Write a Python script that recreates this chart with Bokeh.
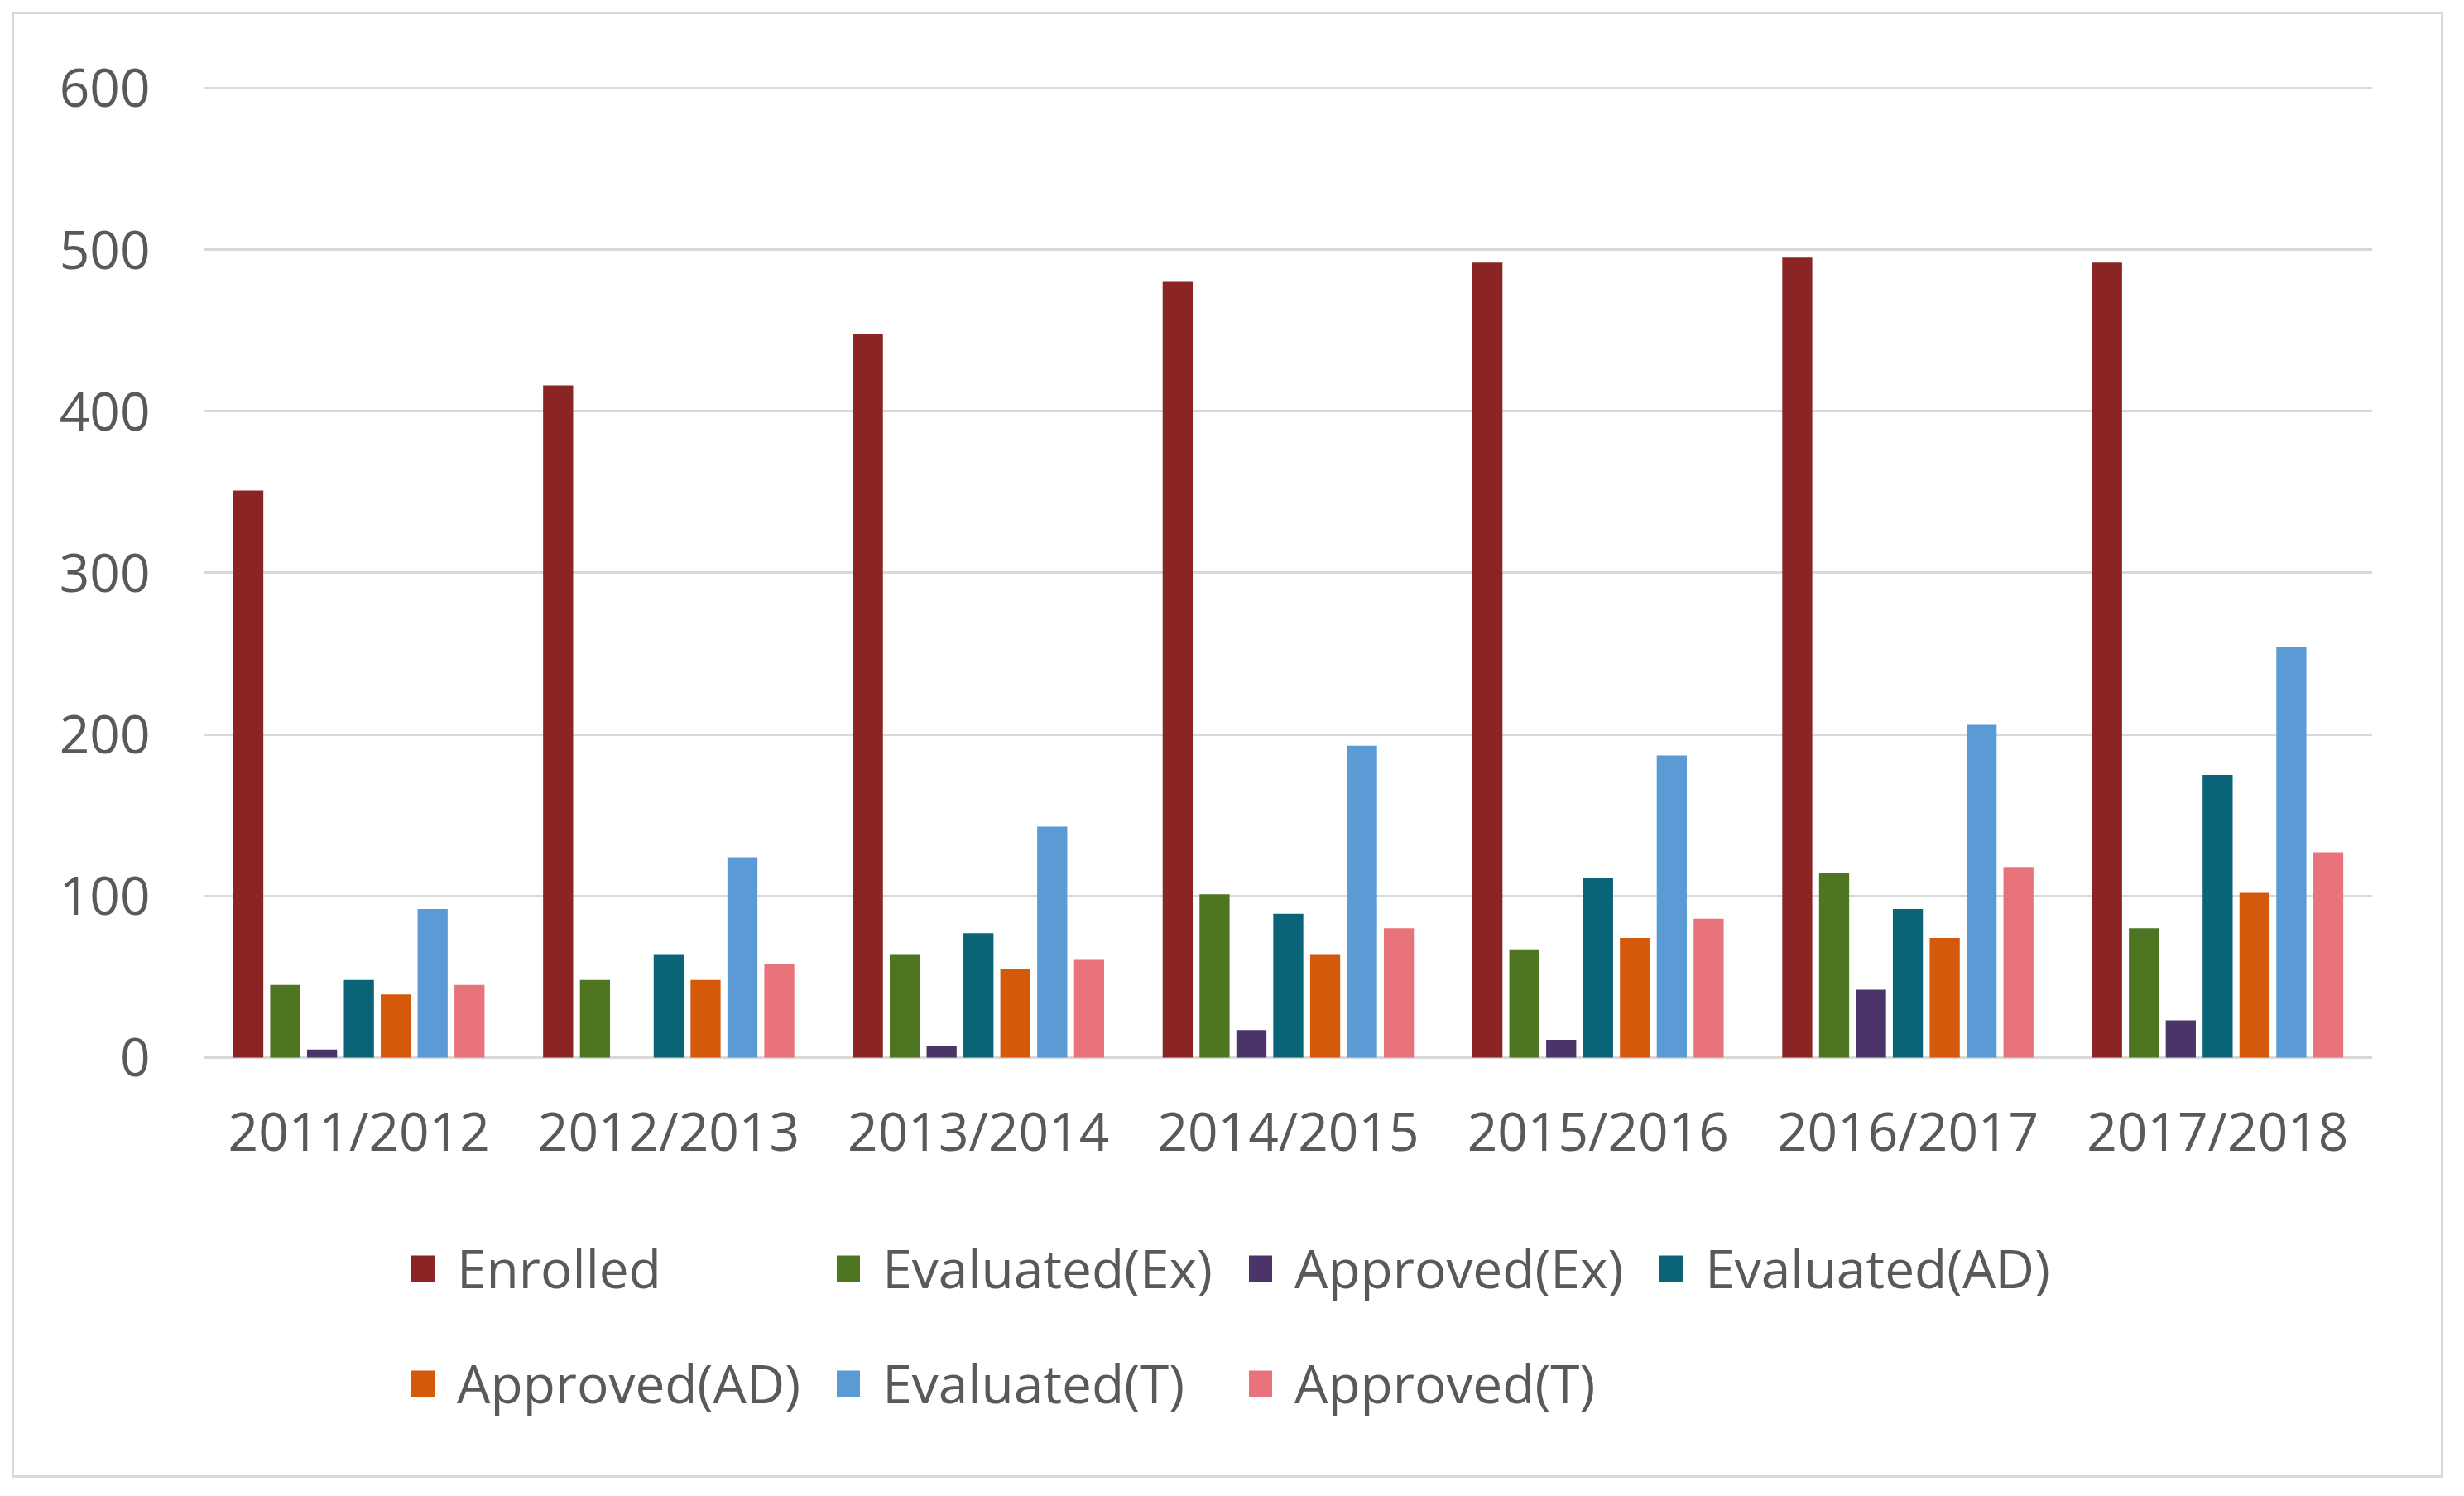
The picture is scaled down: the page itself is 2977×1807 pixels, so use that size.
from bokeh.plotting import figure
from bokeh.models import ColumnDataSource, FactorRange, Range1d, FixedTicker, Legend, LegendItem
from bokeh.transform import dodge
from bokeh.embed import file_html
from bokeh.resources import INLINE

years = ["2011/2012", "2012/2013", "2013/2014", "2014/2015", "2015/2016", "2016/2017", "2017/2018"]
series_names = ["Enrolled", "Evaluated(Ex)", "Approved(Ex)", "Evaluated(AD)", "Approved(AD)", "Evaluated(T)", "Approved(T)"]
enrolled = [351, 416, 448, 480, 492, 495, 492]
evaluated_ex = [45, 48, 64, 101, 67, 114, 80]
approved_ex = [5, 0, 7, 17, 11, 42, 23]
evaluated_ad = [48, 64, 77, 89, 111, 92, 175]
approved_ad = [39, 48, 55, 64, 74, 74, 102]
evaluated_t = [92, 124, 143, 193, 187, 206, 254]
approved_t = [45, 58, 61, 80, 86, 118, 127]
y_ticks = [0, 100, 200, 300, 400, 500, 600]

colors = ["#8B2424", "#4E7622", "#4B3468", "#0A6478", "#D4590B", "#5B9BD5", "#E8737A"]
values = [enrolled, evaluated_ex, approved_ex, evaluated_ad, approved_ad, evaluated_t, approved_t]

data = {"years": years}
keys = []
for i, v in enumerate(values):
    k = "s%d" % i
    keys.append(k)
    data[k] = v
source = ColumnDataSource(data)

FONT = "Open Sans"
TXT = "#595959"

# frame extends below zero to hold the category labels and the legend
p = figure(x_range=FactorRange(*years, range_padding=0), y_range=Range1d(-253.6, 603),
           frame_width=2620, frame_height=1672,
           min_border_left=246, min_border_right=100, min_border_top=100, min_border_bottom=27,
           output_backend="svg", toolbar_location=None, background_fill_color="white",
           border_fill_color=None)
p.outline_line_color = None
p.styles = {"outline": "3px solid #d9d9d9", "outline-offset": "-17px"}

step = 0.119
bw = 0.097
renderers = []
for i, k in enumerate(keys):
    r = p.vbar(x=dodge("years", (i - 3) * step, range=p.x_range), top=k, width=bw,
               source=source, fill_color=colors[i], line_color=None)
    renderers.append(r)

p.yaxis.ticker = FixedTicker(ticks=y_ticks)
p.ygrid.ticker = FixedTicker(ticks=y_ticks)
p.ygrid.grid_line_color = "#d9d9d9"
p.ygrid.grid_line_width = 3
p.xgrid.grid_line_color = None
p.xaxis.fixed_location = 0

for ax in (p.xaxis[0], p.yaxis[0]):
    ax.axis_line_color = None
    ax.major_tick_line_color = None
    ax.minor_tick_line_color = None
    ax.major_tick_out = 0
    ax.major_tick_in = 0
    ax.major_label_text_font = FONT
    ax.major_label_text_font_size = "64px"
    ax.major_label_text_color = TXT
p.yaxis.major_label_standoff = 65
p.xaxis.major_label_standoff = 45

items = [LegendItem(label=series_names[i], renderers=[renderers[i]]) for i in range(7)]
legend = Legend(items=items, orientation="horizontal", ncols=4,
                location=(247, 52), padding=0, margin=0,
                border_line_color=None, background_fill_alpha=0,
                label_text_font=FONT, label_text_font_size="64px", label_text_color=TXT,
                glyph_width=35, glyph_height=40, label_standoff=24,
                label_height=99, spacing=40)
p.add_layout(legend, "center")

open("out.html", "w").write(file_html(p, INLINE))
